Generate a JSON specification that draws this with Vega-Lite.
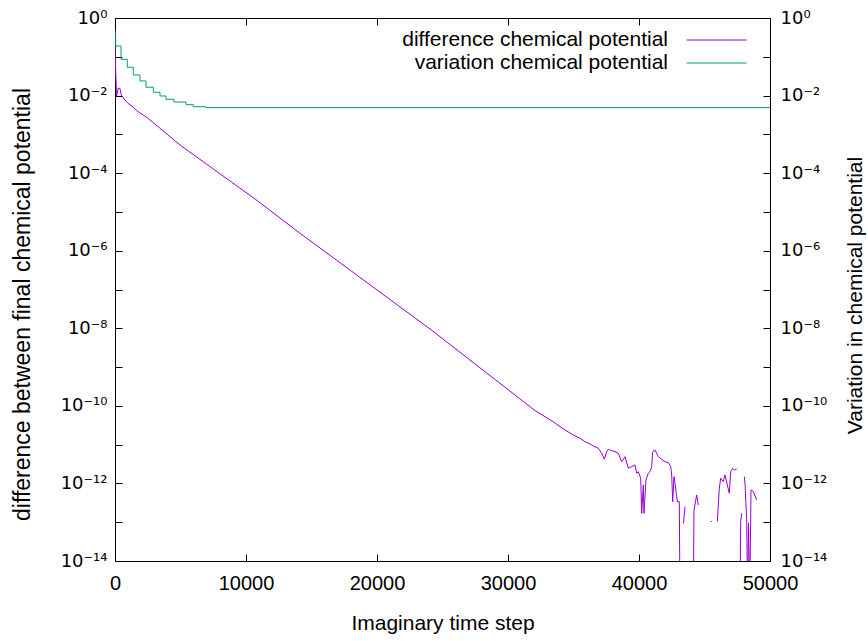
{
  "$schema": "https://vega.github.io/schema/vega-lite/v6.json",
  "width": 655,
  "height": 543,
  "autosize": {"type": "none"},
  "padding": {"left": 115, "top": 18, "right": 98, "bottom": 80},
  "background": "white",
  "config": {
    "view": {"stroke": "#000", "strokeWidth": 1},
    "font": "Liberation Sans",
    "axis": {
      "labelFont": "Liberation Sans", "labelFontSize": 20, "labelColor": "#000",
      "titleFont": "Liberation Sans", "titleFontSize": 21, "titleFontWeight": "normal", "titleColor": "#000",
      "domainColor": "#000", "domainWidth": 1, "tickColor": "#000", "tickWidth": 1, "grid": false,
      "tickSize": -7, "labelFlush": false, "labelOverlap": false, "labelBound": false
    },
    "legend": {
      "labelFont": "Liberation Sans", "labelFontSize": 21, "labelColor": "#000",
      "symbolType": "stroke", "symbolSize": 3600, "symbolStrokeWidth": 1,
      "labelAlign": "right", "labelOffset": -79, "labelLimit": 600, "padding": 0, "rowPadding": 0
    }
  },
  "data": {
    "values": [
      {"series": "difference chemical potential", "step": 0, "value": 0.201},
      {"series": "difference chemical potential", "step": 30, "value": 0.0692},
      {"series": "difference chemical potential", "step": 120, "value": 0.00975},
      {"series": "difference chemical potential", "step": 250, "value": 0.01567},
      {"series": "difference chemical potential", "step": 380, "value": 0.0152},
      {"series": "difference chemical potential", "step": 480, "value": 0.01035},
      {"series": "difference chemical potential", "step": 700, "value": 0.00817},
      {"series": "difference chemical potential", "step": 992, "value": 0.00632},
      {"series": "difference chemical potential", "step": 1380, "value": 0.00508},
      {"series": "difference chemical potential", "step": 1756, "value": 0.00384},
      {"series": "difference chemical potential", "step": 2140, "value": 0.00316},
      {"series": "difference chemical potential", "step": 2519, "value": 0.00259},
      {"series": "difference chemical potential", "step": 3300, "value": 0.00157},
      {"series": "difference chemical potential", "step": 4962, "value": 0.000532},
      {"series": "difference chemical potential", "step": 7000, "value": 0.00017},
      {"series": "difference chemical potential", "step": 9000, "value": 5.55e-5},
      {"series": "difference chemical potential", "step": 10687, "value": 2.16e-5},
      {"series": "difference chemical potential", "step": 12500, "value": 7.36e-6},
      {"series": "difference chemical potential", "step": 14122, "value": 2.82e-6},
      {"series": "difference chemical potential", "step": 17000, "value": 5.43e-7},
      {"series": "difference chemical potential", "step": 20000, "value": 9.73e-8},
      {"series": "difference chemical potential", "step": 24046, "value": 9.6e-9},
      {"series": "difference chemical potential", "step": 27000, "value": 1.61e-9},
      {"series": "difference chemical potential", "step": 30000, "value": 2.63e-10},
      {"series": "difference chemical potential", "step": 32000, "value": 7.83e-11},
      {"series": "difference chemical potential", "step": 33435, "value": 3.92e-11},
      {"series": "difference chemical potential", "step": 33969, "value": 2.91e-11},
      {"series": "difference chemical potential", "step": 34351, "value": 2.39e-11},
      {"series": "difference chemical potential", "step": 34985, "value": 1.78e-11},
      {"series": "difference chemical potential", "step": 35496, "value": 1.46e-11},
      {"series": "difference chemical potential", "step": 35878, "value": 1.19e-11},
      {"series": "difference chemical potential", "step": 36260, "value": 1.04e-11},
      {"series": "difference chemical potential", "step": 36512, "value": 9.25e-12},
      {"series": "difference chemical potential", "step": 36893, "value": 8.07e-12},
      {"series": "difference chemical potential", "step": 37153, "value": 6.0e-12},
      {"series": "difference chemical potential", "step": 37351, "value": 4.2e-12},
      {"series": "difference chemical potential", "step": 37534, "value": 6.59e-12},
      {"series": "difference chemical potential", "step": 37657, "value": 7.6e-12},
      {"series": "difference chemical potential", "step": 37916, "value": 7.0e-12},
      {"series": "difference chemical potential", "step": 38168, "value": 6.59e-12},
      {"series": "difference chemical potential", "step": 38420, "value": 6.0e-12},
      {"series": "difference chemical potential", "step": 38679, "value": 3.64e-12},
      {"series": "difference chemical potential", "step": 38931, "value": 4.9e-12},
      {"series": "difference chemical potential", "step": 39183, "value": 2.46e-12},
      {"series": "difference chemical potential", "step": 39443, "value": 2.71e-12},
      {"series": "difference chemical potential", "step": 39695, "value": 2.99e-12},
      {"series": "difference chemical potential", "step": 39825, "value": 1.83e-12},
      {"series": "difference chemical potential", "step": 39947, "value": 2.01e-12},
      {"series": "difference chemical potential", "step": 40130, "value": 1.36e-12},
      {"series": "difference chemical potential", "step": 40206, "value": 1.7e-13},
      {"series": "difference chemical potential", "step": 40328, "value": 9.14e-13},
      {"series": "difference chemical potential", "step": 40382, "value": 1.7e-13},
      {"series": "difference chemical potential", "step": 40534, "value": 1.23e-12},
      {"series": "difference chemical potential", "step": 40710, "value": 1.83e-12},
      {"series": "difference chemical potential", "step": 40840, "value": 2.01e-12},
      {"series": "difference chemical potential", "step": 40969, "value": 2.71e-12},
      {"series": "difference chemical potential", "step": 41046, "value": 6.59e-12},
      {"series": "difference chemical potential", "step": 41221, "value": 7.3e-12},
      {"series": "difference chemical potential", "step": 41473, "value": 4.9e-12},
      {"series": "difference chemical potential", "step": 41733, "value": 4.2e-12},
      {"series": "difference chemical potential", "step": 41985, "value": 3.64e-12},
      {"series": "difference chemical potential", "step": 42237, "value": 3.44e-12},
      {"series": "difference chemical potential", "step": 42420, "value": 2.71e-12},
      {"series": "difference chemical potential", "step": 42496, "value": 1.66e-12},
      {"series": "difference chemical potential", "step": 42573, "value": 3.39e-13},
      {"series": "difference chemical potential", "step": 42672, "value": 1.5e-12},
      {"series": "difference chemical potential", "step": 42748, "value": 1.01e-12},
      {"series": "difference chemical potential", "step": 42924, "value": 3.39e-13},
      {"series": "difference chemical potential", "step": 43076, "value": 3.39e-13},
      {"series": "difference chemical potential", "step": 43130, "value": 1e-15},
      {"series": "difference chemical potential", "step": 43200, "value": null},
      {"series": "difference chemical potential", "step": 43397, "value": 9.4e-14},
      {"series": "difference chemical potential", "step": 43511, "value": 2.52e-13},
      {"series": "difference chemical potential", "step": 43700, "value": null},
      {"series": "difference chemical potential", "step": 44145, "value": 1e-15},
      {"series": "difference chemical potential", "step": 44198, "value": 2.07e-13},
      {"series": "difference chemical potential", "step": 44405, "value": 5.05e-13},
      {"series": "difference chemical potential", "step": 44527, "value": 2.79e-13},
      {"series": "difference chemical potential", "step": 45000, "value": null},
      {"series": "difference chemical potential", "step": 45458, "value": 1.04e-13},
      {"series": "difference chemical potential", "step": 45560, "value": 1.04e-13},
      {"series": "difference chemical potential", "step": 45800, "value": null},
      {"series": "difference chemical potential", "step": 45977, "value": 1.04e-13},
      {"series": "difference chemical potential", "step": 46130, "value": 7.52e-13},
      {"series": "difference chemical potential", "step": 46237, "value": 1.36e-12},
      {"series": "difference chemical potential", "step": 46435, "value": 1.11e-12},
      {"series": "difference chemical potential", "step": 46565, "value": 1.66e-12},
      {"series": "difference chemical potential", "step": 46741, "value": 9.14e-13},
      {"series": "difference chemical potential", "step": 46893, "value": 5.58e-13},
      {"series": "difference chemical potential", "step": 47000, "value": 2.01e-12},
      {"series": "difference chemical potential", "step": 47153, "value": 2.46e-12},
      {"series": "difference chemical potential", "step": 47290, "value": 2.23e-12},
      {"series": "difference chemical potential", "step": 47458, "value": 2.32e-12},
      {"series": "difference chemical potential", "step": 47600, "value": null},
      {"series": "difference chemical potential", "step": 47710, "value": 1e-15},
      {"series": "difference chemical potential", "step": 47763, "value": 1.04e-13},
      {"series": "difference chemical potential", "step": 47840, "value": 1.7e-13},
      {"series": "difference chemical potential", "step": 47950, "value": null},
      {"series": "difference chemical potential", "step": 48038, "value": 1.5e-12},
      {"series": "difference chemical potential", "step": 48092, "value": 1.01e-12},
      {"series": "difference chemical potential", "step": 48221, "value": 1.15e-13},
      {"series": "difference chemical potential", "step": 48290, "value": 1e-15},
      {"series": "difference chemical potential", "step": 48359, "value": 9.4e-14},
      {"series": "difference chemical potential", "step": 48458, "value": 1e-15},
      {"series": "difference chemical potential", "step": 48550, "value": 6.79e-13},
      {"series": "difference chemical potential", "step": 48725, "value": 6.14e-13},
      {"series": "difference chemical potential", "step": 48985, "value": 3.75e-13},
      {"series": "variation chemical potential", "step": 0, "value": 0.443},
      {"series": "variation chemical potential", "step": 50, "value": 0.19},
      {"series": "variation chemical potential", "step": 458, "value": 0.0861},
      {"series": "variation chemical potential", "step": 939, "value": 0.0536},
      {"series": "variation chemical potential", "step": 1397, "value": 0.034},
      {"series": "variation chemical potential", "step": 1908, "value": 0.0238},
      {"series": "variation chemical potential", "step": 2366, "value": 0.0164},
      {"series": "variation chemical potential", "step": 2924, "value": 0.01216},
      {"series": "variation chemical potential", "step": 3435, "value": 0.00975},
      {"series": "variation chemical potential", "step": 3893, "value": 0.00802},
      {"series": "variation chemical potential", "step": 4504, "value": 0.00683},
      {"series": "variation chemical potential", "step": 5420, "value": 0.00582},
      {"series": "variation chemical potential", "step": 5977, "value": 0.00516},
      {"series": "variation chemical potential", "step": 6947, "value": 0.00488},
      {"series": "variation chemical potential", "step": 50000, "value": 0.00488}
    ]
  },
  "layer": [
    {
      "transform": [{"filter": {"field": "series", "equal": "difference chemical potential"}}],
      "mark": {"type": "line", "strokeWidth": 1, "clip": true, "invalid": "break-paths-filter-domains"},
      "encoding": {
        "x": {
          "field": "step", "type": "quantitative",
          "scale": {"domain": [0, 50000], "nice": false, "zero": false},
          "axis": {
            "orient": "bottom", "values": [0, 10000, 20000, 30000, 40000, 50000], "format": "d",
            "title": "Imaginary time step", "labelPadding": 19,
            "titleX": 327.5, "titleY": 62, "titleBaseline": "middle", "titleAlign": "center"
          }
        },
        "y": {
          "field": "value", "type": "quantitative",
          "scale": {"type": "log", "domain": [1e-14, 1], "nice": false},
          "axis": {
            "orient": "left",
            "values": [1, 0.1, 0.01, 0.001, 0.0001, 1e-5, 1e-6, 1e-7, 1e-8, 1e-9, 1e-10, 1e-11, 1e-12, 1e-13, 1e-14],
            "labelExpr": "(round(log(datum.value)/LN10) % 2 == 0) ? '10' + replace(replace(replace(replace(replace(replace(replace('' + round(log(datum.value)/LN10), '-', '⁻'), '0', '⁰'), '1', '¹'), '2', '²'), '4', '⁴'), '6', '⁶'), '8', '⁸') : ''",
            "labelFont": "DejaVu Sans", "labelFontSize": 18,
            "labelPadding": 15,
            "title": "difference between final chemical potential", "titleFontSize": 23,
            "titleX": -93, "titleY": 286, "titleAngle": 270, "titleBaseline": "middle", "titleAlign": "center"
          }
        },
        "color": {
          "field": "series", "type": "nominal",
          "scale": {"domain": ["difference chemical potential"], "range": ["#9400D3"]},
          "legend": {"orient": "none", "legendX": 571, "legendY": -8.5, "title": null}
        }
      }
    },
    {
      "transform": [{"filter": {"field": "series", "equal": "variation chemical potential"}}],
      "mark": {"type": "line", "strokeWidth": 1, "clip": true, "interpolate": "step-after"},
      "encoding": {
        "x": {
          "field": "step", "type": "quantitative",
          "scale": {"domain": [0, 50000], "nice": false, "zero": false},
          "axis": {"orient": "top", "values": [0, 10000, 20000, 30000, 40000, 50000], "labels": false, "title": null}
        },
        "y": {
          "field": "value", "type": "quantitative",
          "scale": {"type": "log", "domain": [1e-14, 1], "nice": false},
          "axis": {
            "orient": "right",
            "values": [1, 0.1, 0.01, 0.001, 0.0001, 1e-5, 1e-6, 1e-7, 1e-8, 1e-9, 1e-10, 1e-11, 1e-12, 1e-13, 1e-14],
            "labelExpr": "(round(log(datum.value)/LN10) % 2 == 0) ? '10' + replace(replace(replace(replace(replace(replace(replace('' + round(log(datum.value)/LN10), '-', '⁻'), '0', '⁰'), '1', '¹'), '2', '²'), '4', '⁴'), '6', '⁶'), '8', '⁸') : ''",
            "labelFont": "DejaVu Sans", "labelFontSize": 18,
            "labelPadding": 17,
            "title": "Variation in chemical potential",
            "titleX": 85, "titleY": 277, "titleAngle": 270, "titleBaseline": "middle", "titleAlign": "center"
          }
        },
        "color": {
          "field": "series", "type": "nominal",
          "scale": {"domain": ["variation chemical potential"], "range": ["#009E73"]},
          "legend": {"orient": "none", "legendX": 571, "legendY": 14.5, "title": null}
        }
      }
    }
  ],
  "resolve": {"scale": {"color": "independent"}, "axis": {"x": "independent", "y": "independent"}}
}
